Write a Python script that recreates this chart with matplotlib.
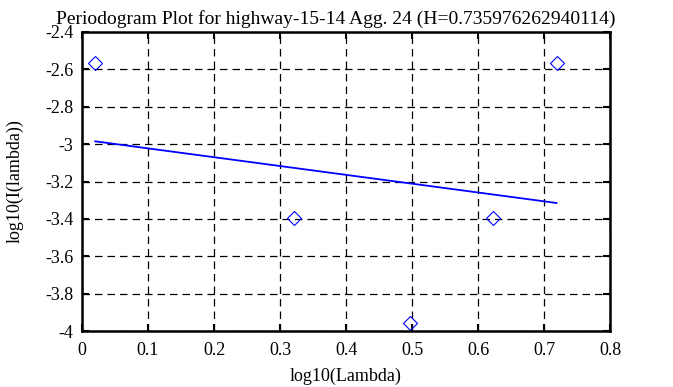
import matplotlib
matplotlib.use('Agg')
import matplotlib.pyplot as plt

# periodogram points (log10 of frequency, log10 of power)
log_lambda = [0.020, 0.321, 0.497, 0.622, 0.719]
log_power = [-2.568, -3.395, -3.957, -3.395, -2.568]

# least-squares fit line endpoints
fit_x = [0.020, 0.719]
fit_y = [-2.985, -3.315]

title = 'Periodogram Plot for highway-15-14 Agg. 24 (H=0.735976262940114)'

plt.rcParams['font.family'] = ['Liberation Serif', 'DejaVu Serif']

fig = plt.figure(figsize=(6.73, 3.87), dpi=100)
ax = fig.add_axes([82 / 673.0, 1 - 331 / 387.0, 528 / 673.0, 299 / 387.0])

ax.plot(fit_x, fit_y, color='#0000ff', linewidth=1.3)
ax.plot(log_lambda, log_power, linestyle='none', marker='D', markersize=7.5,
        markerfacecolor='none', markeredgecolor='#0000ff', markeredgewidth=0.8,
        clip_on=False)

ax.set_xlim(0, 0.8)
ax.set_ylim(-4, -2.4)
ax.set_xticks([0, 0.1, 0.2, 0.3, 0.4, 0.5, 0.6, 0.7, 0.8])
ax.set_xticklabels(['0', '0.1', '0.2', '0.3', '0.4', '0.5', '0.6', '0.7', '0.8'])
ax.set_yticks([-4, -3.8, -3.6, -3.4, -3.2, -3, -2.8, -2.6, -2.4])
ax.set_yticklabels(['-4', '-3.8', '-3.6', '-3.4', '-3.2', '-3', '-2.8', '-2.6', '-2.4'])

ax.grid(True, color='black', linestyle=(0, (6, 4)), linewidth=0.9)
ax.tick_params(direction='in', length=5, width=1.5, top=True, right=True,
               labelsize=13, pad=6, colors='black')
ax.tick_params(axis='x', pad=8)
for sp in ax.spines.values():
    sp.set_linewidth(1.8)

# title is centred on the whole figure, not on the axes
ax.set_title(title, fontsize=14, pad=6, x=(336 - 82) / 528.0)
ax.set_xlabel('log10(Lambda)', fontsize=13, labelpad=6.5)
ax.set_ylabel('log10(I(lambda))', fontsize=13, labelpad=16)

fig.savefig('out.png', dpi=100)
